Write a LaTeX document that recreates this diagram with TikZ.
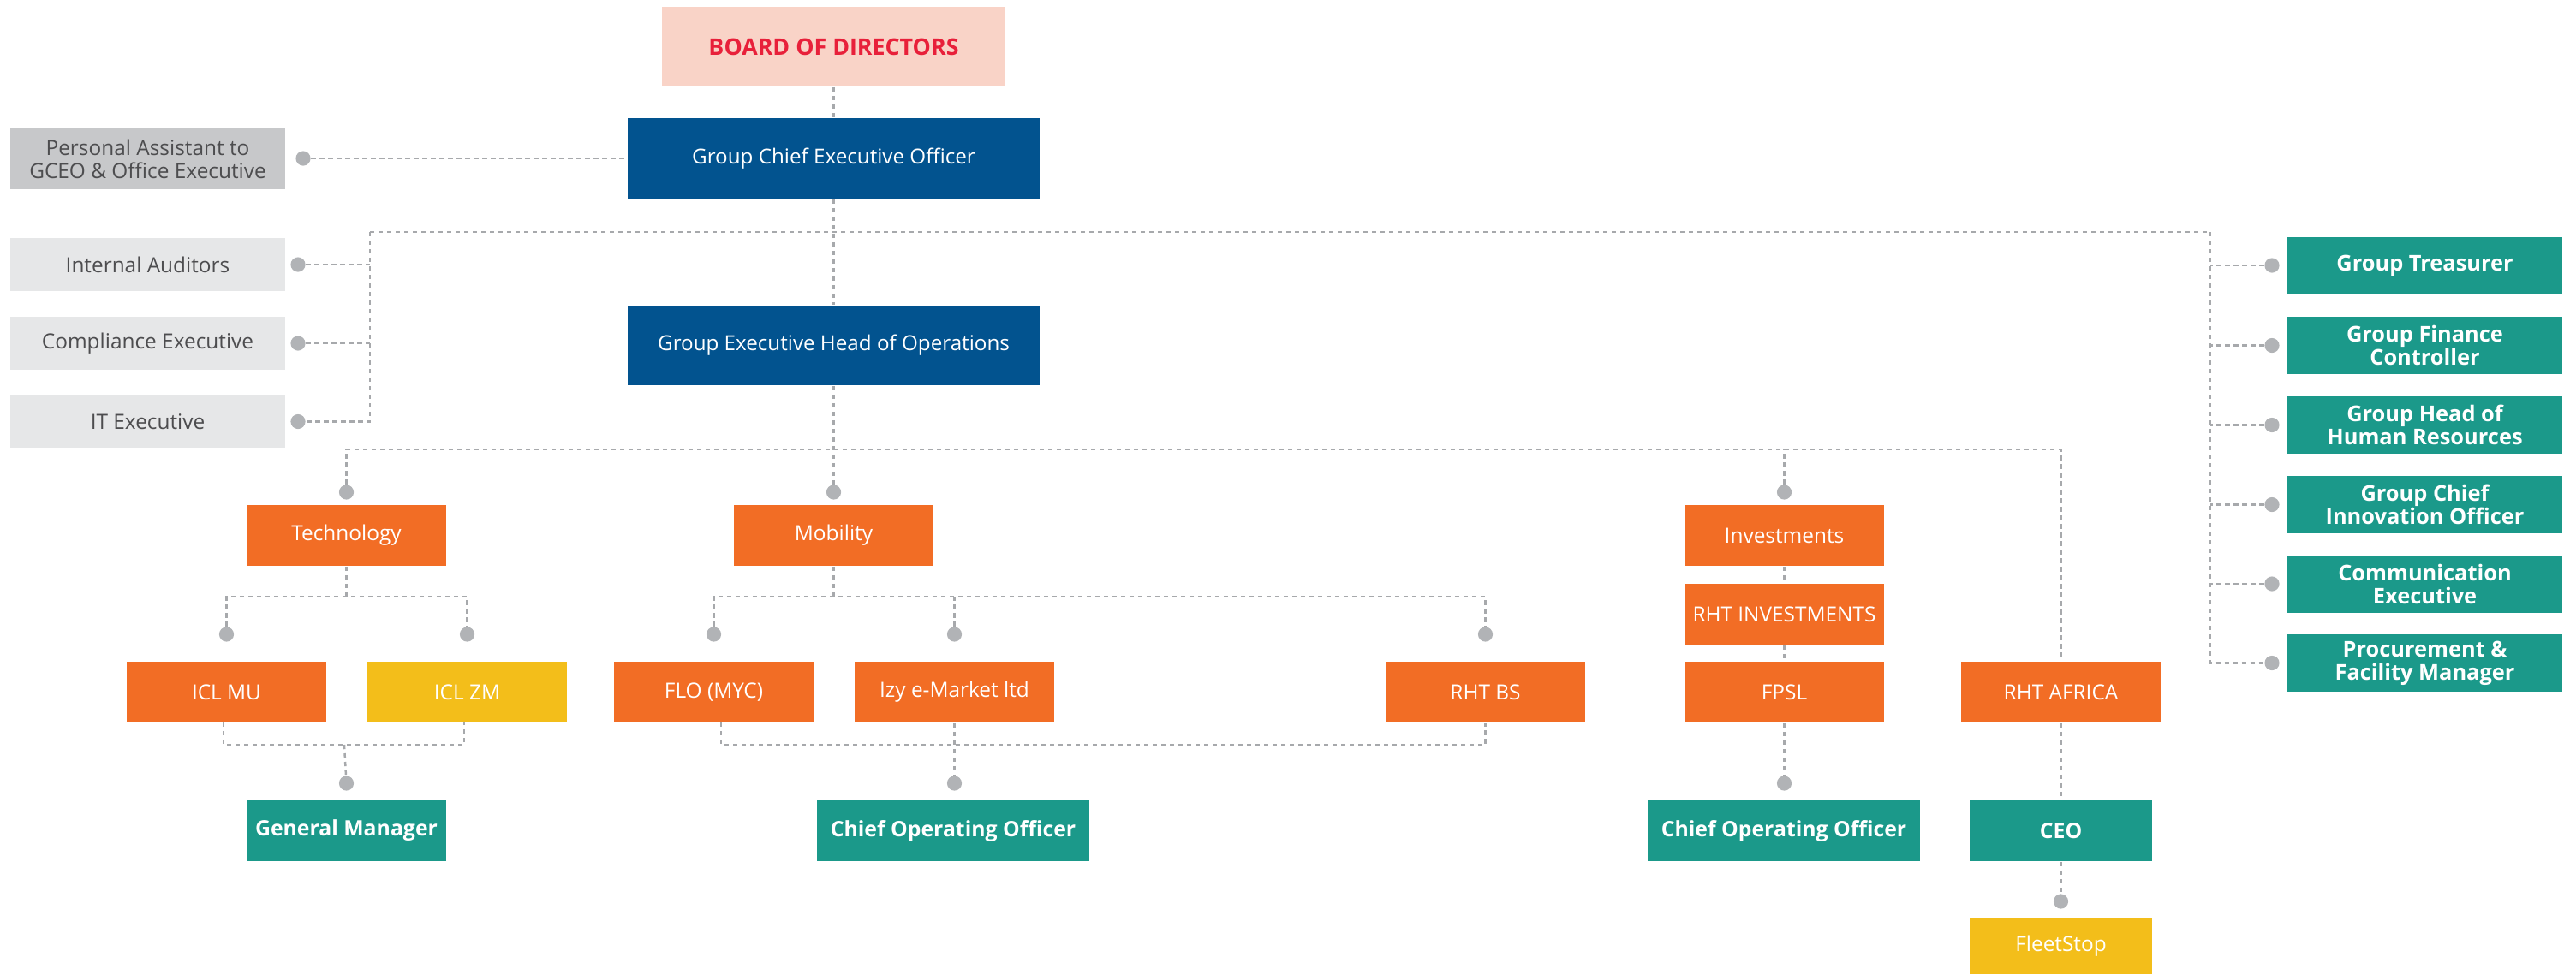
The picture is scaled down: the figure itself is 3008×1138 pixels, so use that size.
\documentclass[tikz,border=0pt]{standalone}
\usepackage{fontspec}
\setmainfont{Open Sans}
\definecolor{boardfill}{HTML}{F9D3C7}
\definecolor{boardtext}{HTML}{E8203A}
\definecolor{blueC}{HTML}{02538F}
\definecolor{grayA}{HTML}{C7C8CA}
\definecolor{grayB}{HTML}{E6E7E8}
\definecolor{grayT}{HTML}{4D4D4F}
\definecolor{tealC}{HTML}{1B998A}
\definecolor{orangeC}{HTML}{F26D25}
\definecolor{yellowC}{HTML}{F3BE1A}
\definecolor{dotC}{HTML}{B1B3B6}
\definecolor{lineC}{HTML}{A7A9AC}
\begin{document}
\begin{tikzpicture}[x=0.25pt,y=-0.25pt,
  box/.style 2 args={rectangle, inner sep=0pt, align=center,
    minimum width=#1*0.25pt, minimum height=#2*0.25pt,
    font=\fontsize{6.1}{6.7}\selectfont},
  boardbox/.style={fill=boardfill, text=boardtext, font=\fontsize{6.7}{7.2}\selectfont\bfseries},
  bluebox/.style={fill=blueC, text=white, font=\fontsize{6.05}{7.1}\selectfont},
  graybox/.style={fill=grayA, text=grayT},
  lgraybox/.style={fill=grayB, text=grayT},
  tealbox/.style={fill=tealC, text=white, font=\fontsize{6.35}{6.75}\selectfont\bfseries},
  tealbot/.style={fill=tealC, text=white, font=\fontsize{6.2}{6.75}\selectfont\bfseries},
  orangebox/.style={fill=orangeC, text=white},
  yellowbox/.style={fill=yellowC, text=white},
  dot/.style={circle, fill=dotC, inner sep=0pt, minimum size=4.3pt},
  conn/.style={draw=lineC, line width=0.62pt, dash pattern=on 1.3pt off 1.2pt}
]
\useasboundingbox (0,0) rectangle (3008,1138);

% top
\node[box={401}{93}, boardbox] (board) at (973.5,54.5) {BOARD OF DIRECTORS};
\node[box={481}{94}, bluebox] (gceo) at (973.5,185) {Group Chief Executive Officer};
\node[box={481}{93}, bluebox] (geho) at (973.5,403.5) {Group Executive Head of Operations};

% left column
\node[box={321}{71}, graybox] (pa) at (172.5,185.5) {Personal Assistant to\\GCEO \& Office Executive};
\node[box={321}{62}, lgraybox] (ia) at (172.5,309) {Internal Auditors};
\node[box={321}{62}, lgraybox] (ce) at (172.5,401) {Compliance Executive};
\node[box={321}{61}, lgraybox] (ite) at (172.5,492.5) {IT Executive};

% right column
\node[box={321}{67}, tealbox] (tre) at (2831.5,310) {Group Treasurer};
\node[box={321}{67}, tealbox] (gfc) at (2831.5,403.5) {Group Finance\\Controller};
\node[box={321}{67}, tealbox] (ghr) at (2831.5,496.5) {Group Head of\\Human Resources};
\node[box={321}{67}, tealbox] (gcio) at (2831.5,589.5) {Group Chief\\Innovation Officer};
\node[box={321}{67}, tealbox] (comm) at (2831.5,682) {Communication\\Executive};
\node[box={321}{67}, tealbox] (proc) at (2831.5,774.5) {Procurement \&\\Facility Manager};

% divisions
\node[box={233}{71}, orangebox] (tech) at (404.5,625.5) {Technology};
\node[box={233}{71}, orangebox] (mob) at (973.5,625.5) {Mobility};
\node[box={233}{71}, orangebox] (inv) at (2083.5,625.5) {Investments};
\node[box={233}{71}, orangebox] (rhtinv) at (2083.5,717.5) {RHT INVESTMENTS};

% companies
\node[box={233}{71}, orangebox] (iclmu) at (264.5,808.5) {ICL MU};
\node[box={233}{71}, yellowbox] (iclzm) at (545.5,808.5) {ICL ZM};
\node[box={233}{71}, orangebox] (flo) at (833.5,808.5) {FLO (MYC)};
\node[box={233}{71}, orangebox] (izy) at (1114.5,808.5) {Izy e-Market ltd};
\node[box={233}{71}, orangebox] (rhtbs) at (1734.5,808.5) {RHT BS};
\node[box={233}{71}, orangebox] (fpsl) at (2083.5,808.5) {FPSL};
\node[box={233}{71}, orangebox] (rhtaf) at (2406.5,808.5) {RHT AFRICA};

% bottom row
\node[box={233}{71}, tealbot] (gm) at (404.5,970.5) {General Manager};
\node[box={318}{71}, tealbot] (coo1) at (1113,970.5) {Chief Operating Officer};
\node[box={318}{71}, tealbot] (coo2) at (2083,970.5) {Chief Operating Officer};
\node[box={213}{71}, tealbot] (ceo) at (2406.5,970.5) {CEO};
\node[box={213}{66}, yellowbox] (fleet) at (2406.5,1105) {FleetStop};

% dots
\node[dot] (dpa) at (354,185) {};
\node[dot] (dia) at (348,309) {};
\node[dot] (dce) at (348,401) {};
\node[dot] (dit) at (348,492.5) {};
\node[dot] (dtre) at (2653,310) {};
\node[dot] (dgfc) at (2653,403.5) {};
\node[dot] (dghr) at (2653,496.5) {};
\node[dot] (dgcio) at (2653,589.5) {};
\node[dot] (dcomm) at (2653,682) {};
\node[dot] (dproc) at (2653,774.5) {};
\node[dot] (dtech) at (404.5,575) {};
\node[dot] (dmob) at (973.5,575) {};
\node[dot] (dinv) at (2083.5,575) {};
\node[dot] (dmu) at (264.5,741) {};
\node[dot] (dzm) at (545.5,741) {};
\node[dot] (dflo) at (833.5,741) {};
\node[dot] (dizy) at (1114.5,741) {};
\node[dot] (dbs) at (1734.5,741) {};
\node[dot] (dgm) at (404.5,915) {};
\node[dot] (dcoo1) at (1114.5,915) {};
\node[dot] (dcoo2) at (2083.5,915) {};
\node[dot] (dfleet) at (2406.5,1053) {};

% junction coordinates
\coordinate (tl) at (432,271);
\coordinate (tr) at (2581,271);
\coordinate (hright) at (2406.5,525);
\coordinate (tj) at (404.5,697);
\coordinate (tb) at (402,870);
\coordinate (mub) at (261,844);
\coordinate (zmb) at (542,844);
\coordinate (mj) at (973.5,697);
\coordinate (mb) at (1114.5,870);
\coordinate (flob) at (842,844);

% connectors: top
\draw[conn] (board) -- (gceo);
\draw[conn] (gceo) -- (geho);
\draw[conn] (dpa) -- (gceo);
\draw[conn] (tl) -- (tr);
\draw[conn] (tl) |- (dit);
\draw[conn] (dia) -- (dia -| tl);
\draw[conn] (dce) -- (dce -| tl);
\draw[conn] (tr) |- (dproc);
\draw[conn] (dtre) -- (dtre -| tr);
\draw[conn] (dgfc) -- (dgfc -| tr);
\draw[conn] (dghr) -- (dghr -| tr);
\draw[conn] (dgcio) -- (dgcio -| tr);
\draw[conn] (dcomm) -- (dcomm -| tr);

% connectors: operations
\draw[conn] (geho) -- (dmob);
\draw[conn] (dtech) |- (hright) -- (rhtaf);
\draw[conn] (dinv) -- (dinv |- hright);

% technology
\draw[conn] (tech) -- (tj);
\draw[conn] (dmu) |- (tj) -| (dzm);
\draw[conn] (mub) |- (tb) -| (zmb);
\draw[conn] (tb) -- (dgm);

% mobility
\draw[conn] (mob) -- (mj);
\draw[conn] (dflo) |- (mj) -| (dbs);
\draw[conn] (dizy) -- (dizy |- mj);
\draw[conn] (flob) |- (mb) -| (rhtbs);
\draw[conn] (izy) -- (dcoo1);

% investments
\draw[conn] (inv) -- (rhtinv);
\draw[conn] (rhtinv) -- (fpsl);
\draw[conn] (fpsl) -- (dcoo2);
\draw[conn] (rhtaf) -- (ceo);
\draw[conn] (ceo) -- (dfleet);
\end{tikzpicture}
\end{document}
